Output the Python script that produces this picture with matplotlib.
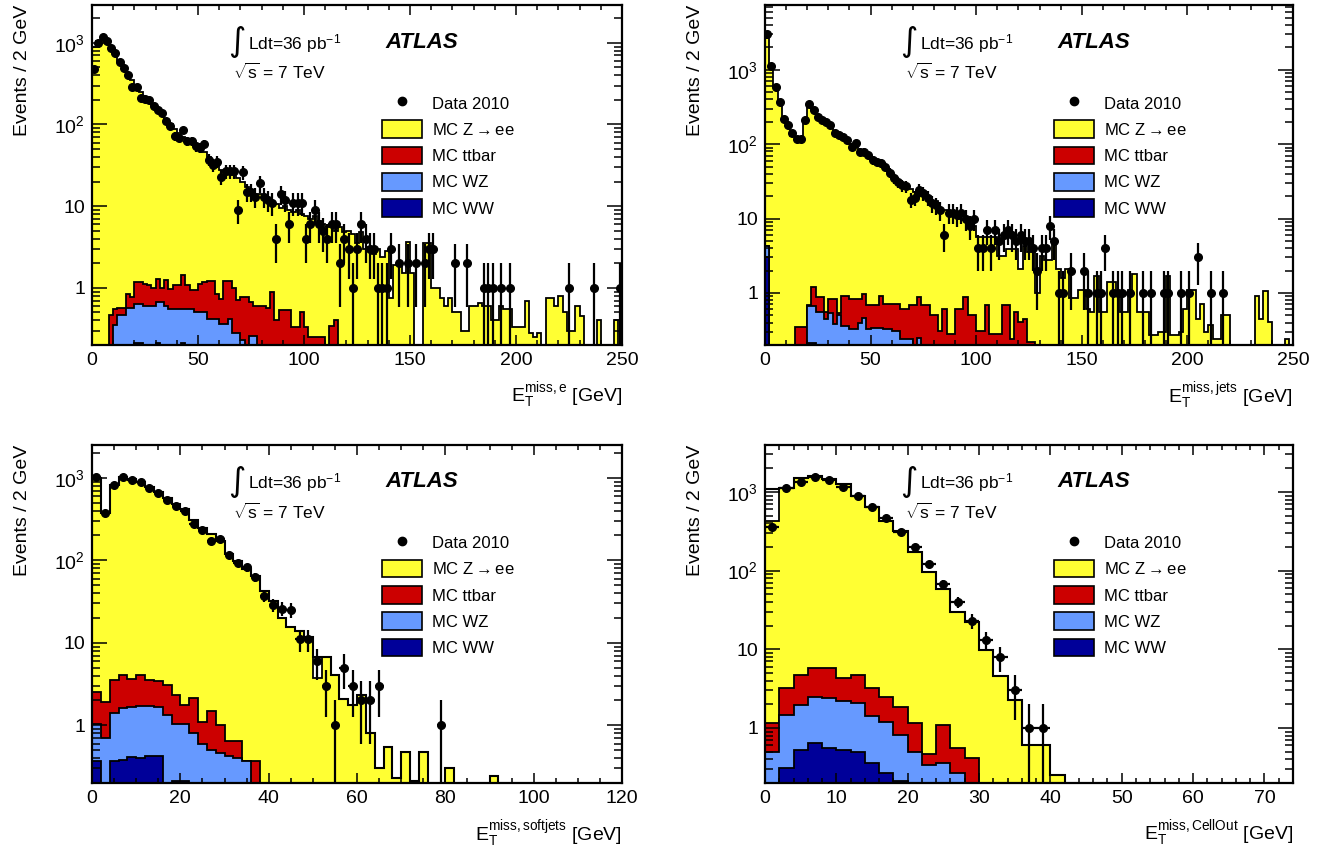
import numpy as np
import matplotlib
matplotlib.use('Agg')
import matplotlib.pyplot as plt
from matplotlib.patches import Patch
from matplotlib.lines import Line2D
from matplotlib.ticker import FixedLocator, LogLocator, MultipleLocator, NullFormatter, FuncFormatter

plt.rcParams['font.family'] = ['Liberation Sans', 'DejaVu Sans']
plt.rcParams['mathtext.fontset'] = 'custom'
plt.rcParams['mathtext.rm'] = 'Liberation Sans'
plt.rcParams['mathtext.it'] = 'Liberation Sans:italic'
plt.rcParams['mathtext.bf'] = 'Liberation Sans:bold'

# ---------------- top left: E_T^miss,e, 2 GeV bins 0-250 ----------------
e_data = [480, 1000, 1170, 1040, 860, 750, 590, 490, 407, 288,
          288, 212, 205, 198, 170, 152, 138, 110, 95, 72,
          69, 85, 63, 63, 54, 52, 57, 37, 32, 35,
          23, 27, 27, 27, 9, 26, 15, 15, 13, 19,
          13, 12, 11, 4, 14, 12, 6, 11, 11, 11,
          4, 6, 9, 6, 5, 4, 6, 6, 2, 4,
          3, 1, 3, 6, 4, 3, 3, 1, 1, 1,
          3, 0, 2, 0, 2, 0, 2, 0, 2, 3,
          3, 0, 0, 0, 0, 2, 0, 0, 2, 0,
          0, 0, 1, 1, 1, 0, 1, 0, 1, 0,
          0, 0, 0, 0, 0, 0, 0, 0, 0, 0,
          0, 0, 1, 0, 0, 0, 0, 0, 1, 0,
          0, 0, 0, 0, 1]
e_zee = [900, 1050, 1150, 1000, 850, 730, 600, 500, 420, 350,
         295, 250, 215, 190, 168, 150, 132, 115, 100, 88,
         78, 70, 64, 58, 53, 50, 46, 40, 35, 31,
         28, 26, 25, 24, 22, 20, 17, 15, 14, 14,
         13, 12, 11.5, 10.5, 9.5, 10, 9, 8.5, 9, 8,
         7.5, 7, 7.5, 6.5, 6, 5.5, 6, 5, 5.5, 4.8,
         5, 4.6, 3.5, 4.8, 3, 3.2, 2.6, 3, 2.4, 2.8,
         0.75, 1.9, 1.9, 1.5, 3.6, 1.5, 0.15, 0.15, 3.5, 3.5,
         1, 1, 0.75, 0.6, 0.75, 0.5, 0.5, 0.3, 0.3, 0.6,
         0.6, 0.65, 0.6, 0.6, 0.4, 0.4, 0.6, 0.55, 0.55, 0.33,
         0.33, 0.33, 0.7, 0.28, 0.25, 0.28, 0, 0.75, 0.75, 0.6,
         0.8, 0.5, 0.3, 0.3, 0.6, 0.45, 0, 0, 0, 0.4,
         0, 0, 0, 0.4, 0]
e_tt = [0, 0, 0, 0, 0.46, 0.55, 0.57, 0.57, 0.85, 0.78,
        1.18, 1.18, 1.1, 1.07, 1.0, 1.3, 1.0, 1.25, 0.97, 1.07,
        1.07, 1.45, 1.07, 0.93, 0.93, 1.1, 1.18, 1.2, 1.2, 0.85,
        0.74, 1.2, 1.2, 1.0, 0.72, 0.77, 0.77, 0.67, 0.6, 0.6,
        0.6, 0.57, 0.9, 0.41, 0.53, 0.53, 0.53, 0.33, 0.33, 0.5,
        0.33, 0.25, 0.25, 0.25, 0.25, 0.18, 0.34, 0.4, 0, 0] + [0] * 65
e_wz = [0, 0, 0, 0, 0, 0.35, 0.46, 0.46, 0.57, 0.57,
        0.64, 0.64, 0.6, 0.6, 0.6, 0.68, 0.68, 0.6, 0.55, 0.55,
        0.55, 0.55, 0.55, 0.55, 0.5, 0.5, 0.5, 0.42, 0.42, 0.42,
        0.36, 0.36, 0.42, 0.28, 0.28, 0.23, 0.18, 0.26, 0.26, 0] + [0] * 85
e_ww = [0, 0, 0, 0, 0, 0, 0, 0, 0, 0,
        0.21, 0.21, 0, 0, 0, 0.21, 0, 0, 0, 0,
        0, 0.21, 0, 0, 0, 0, 0, 0, 0, 0] + [0] * 95

# ---------------- top right: E_T^miss,jets ----------------
j_data = [3000, 1130, 593, 366, 220, 179, 139, 119, 119, 213,
          341, 284, 231, 213, 198, 179, 139, 132, 125, 113,
          92, 102, 79, 79, 71, 61, 58, 55, 50, 41,
          35, 31, 28, 27, 18, 19, 24, 22, 19, 16,
          15, 13, 6, 12, 12, 11, 12, 10, 8, 10,
          4, 4, 7, 4, 7, 5, 6, 7, 6, 5,
          6, 5, 5, 4, 2, 4, 4, 8, 5, 1,
          1, 0, 2, 0, 0, 2, 1, 0, 1, 1,
          4, 0, 1, 1, 1, 0, 1, 0, 0, 1,
          0, 1, 0, 0, 1, 1, 0, 0, 1, 0,
          1, 0, 3, 0, 0, 1, 0, 0, 1, 0] + [0] * 15
j_zee = [2700, 1150, 600, 370, 230, 170, 130, 110, 115, 220,
         320, 290, 245, 225, 200, 175, 150, 135, 125, 112,
         100, 92, 82, 76, 70, 62, 57, 52, 47, 42,
         37, 32, 29, 27, 25, 23, 21, 20, 19, 16,
         17, 14, 13, 12, 11.5, 11, 10, 9.5, 8.5, 8,
         5.6, 5.6, 5.6, 5.6, 5.6, 3.1, 3.1, 3.9, 3.9, 3.9,
         2.1, 4.3, 3.5, 3.5, 1.0, 3.1, 2.8, 2.8, 4.8, 2.1,
         1.6, 2.1, 0.85, 0.85, 1.1, 1.1, 0.6, 0.55, 1.7, 0.55,
         0.55, 1.4, 1.4, 1.0, 0.55, 0.55, 1.1, 1.8, 0.55, 0.55,
         0.55, 0.27, 0.27, 0.3, 0.3, 1.7, 0.27, 0.27, 0.3, 0.6,
         1.1, 1.1, 0.45, 0.7, 0.3, 0.37, 0.24, 0.24, 0.5, 0.5,
         0, 0, 0, 0, 0, 0, 0.9, 0.45, 1.05, 0.41,
         0, 0, 0, 0.24, 0]
j_tt = [4.3, 0, 0, 0, 0, 0, 0, 0.35, 0.35, 0.35,
        0.68, 1.19, 0.88, 0.88, 0.55, 0.84, 0.84, 0.53, 0.9, 0.9,
        0.84, 0.84, 0.84, 0.97, 0.68, 0.68, 0.68, 0.9, 0.7, 0.7,
        0.7, 0.7, 0.6, 0.6, 0.68, 0.68, 0.88, 0.68, 0.68, 0.51,
        0.51, 0.31, 0.6, 0.28, 0.28, 0.6, 0.6, 0.88, 0.51, 0.51,
        0.31, 0.31, 0.68, 0.28, 0.28, 0.28, 0.68, 0.68, 0.24, 0.55,
        0.41, 0.45, 0.22, 0.22] + [0] * 61
j_wz = [4.3, 0, 0, 0, 0, 0, 0, 0, 0, 0,
        0.66, 0.66, 0.55, 0.55, 0.44, 0.53, 0.38, 0.51, 0.36, 0.36,
        0.33, 0.33, 0.4, 0.46, 0.33, 0.34, 0.34, 0.34, 0.33, 0.33,
        0.31, 0.31, 0.24, 0.24, 0.24, 0, 0.25] + [0] * 88
j_ww = [3.0, 0, 0, 0, 0, 0, 0, 0, 0, 0,
        0.21, 0.21] + [0] * 113

# ---------------- bottom left: E_T^miss,softjets, 0-120 ----------------
s_data = [1018, 375, 824, 1037, 929, 887, 751, 653, 543, 460,
          400, 272, 236, 171, 179, 115, 92, 82, 62, 37,
          29, 26, 25, 11, 11, 6, 3, 1, 5, 3,
          2, 2, 3, 0, 0, 0, 0, 0, 0, 1] + [0] * 20
s_line = [1000, 375, 824, 1037, 960, 900, 780, 680, 575, 480,
          420, 312, 248, 206, 171, 118, 98, 78, 65, 43,
          32, 19.8, 15.5, 14, 11.7, 6.7, 6.7, 4.1, 2.1, 1.76,
          2.36, 0.8, 0.3, 0.55, 0.23, 0.47, 0.21, 0.47, 0, 0,
          0.3, 0, 0, 0, 0, 0.24] + [0] * 14
s_zee = [1000, 375, 824, 1037, 960, 900, 780, 680, 575, 480,
         420, 312, 248, 206, 171, 118, 98, 78, 65, 43,
         32, 19.8, 15.5, 14, 11.7, 3.75, 6.7, 4.1, 2.1, 1.76,
         2.36, 0.8, 0.3, 0.55, 0.23, 0.47, 0.21, 0.47, 0, 0,
         0.3, 0, 0, 0, 0, 0.24] + [0] * 14
s_tt = [2.55, 1.93, 3.5, 4.04, 3.6, 4.1, 3.5, 3.4, 3.06, 2.3,
        1.76, 2.16, 1.1, 1.5, 1.0, 0.65, 0.65, 0.37, 0.37] + [0] * 41
s_wz = [1.05, 0.7, 1.4, 1.6, 1.68, 1.7, 1.7, 1.68, 1.33, 1.05,
        1.05, 0.8, 0.6, 0.5, 0.46, 0.42, 0.4, 0.37] + [0] * 42
s_ww = [0.37, 0, 0.37, 0.38, 0.41, 0.4, 0.42, 0.43, 0.2, 0.21,
        0.21] + [0] * 49

# ---------------- bottom right: E_T^miss,CellOut, 0-74 ----------------
c_data = [360, 1120, 1350, 1535, 1400, 1167, 880, 635, 465, 310,
          197, 121, 68, 40, 23, 13, 8, 3, 1, 1] + [0] * 17
c_line = [1080, 1135, 1490, 1595, 1446, 1250, 890, 646, 430, 321,
          175, 95, 58.7, 29.7, 22.5, 9.7, 4.6, 2.26, 0.61, 0.61,
          0.25] + [0] * 16
c_zee = [430, 1135, 1490, 1595, 1446, 1250, 890, 646, 430, 321,
         175, 95, 58.7, 29.7, 22.5, 9.7, 4.6, 2.26, 0.61, 0.61,
         0.25] + [0] * 16
c_tt = [1.17, 3.18, 4.7, 5.86, 5.8, 4.38, 4.7, 3.2, 2.49, 1.86,
        1.17, 0.47, 1.09, 0.55, 0.41] + [0] * 22
c_wz = [0.5, 1.46, 1.95, 2.45, 2.4, 2.22, 2.09, 1.42, 1.2, 0.81,
        0.5, 0.34, 0.36, 0.27] + [0] * 23
c_ww = [0.19, 0.31, 0.53, 0.64, 0.55, 0.53, 0.49, 0.36, 0.27, 0.21] + [0] * 27

xlabels = [r'$\mathregular{E_T^{miss,e}}$ [GeV]',
           r'$\mathregular{E_T^{miss,jets}}$ [GeV]',
           r'$\mathregular{E_T^{miss,softjets}}$ [GeV]',
           r'$\mathregular{E_T^{miss,CellOut}}$ [GeV]']
legend_labels = ['Data 2010', r'MC Z$\rightarrow$ee', 'MC ttbar', 'MC WZ', 'MC WW']

col_zee = '#ffff33'
col_tt = '#cc0000'
col_wz = '#6699ff'
col_ww = '#000099'

panels = [
    dict(pos=[0.0691, 0.5951, 0.3979, 0.399], xmax=250, ymax=2900, xmaj=50, xmin=10,
         data=e_data, zee=e_zee, tt=e_tt, wz=e_wz, ww=e_ww, line=None, xl=xlabels[0]),
    dict(pos=[0.5743, 0.5951, 0.3964, 0.399], xmax=250, ymax=7400, xmaj=50, xmin=10,
         data=j_data, zee=j_zee, tt=j_tt, wz=j_wz, ww=j_ww, line=None, xl=xlabels[1]),
    dict(pos=[0.0691, 0.081, 0.3979, 0.3967], xmax=120, ymax=2500, xmaj=20, xmin=5,
         data=s_data, zee=s_zee, tt=s_tt, wz=s_wz, ww=s_ww, line=s_line, xl=xlabels[2]),
    dict(pos=[0.5743, 0.081, 0.3964, 0.3967], xmax=74, ymax=3950, xmaj=10, xmin=2,
         data=c_data, zee=c_zee, tt=c_tt, wz=c_wz, ww=c_ww, line=c_line, xl=xlabels[3]),
]


def ytick_fmt(v, pos):
    if abs(v - 1) < 1e-6:
        return '1'
    if abs(v - 10) < 1e-6:
        return '10'
    return r'$\mathregular{10^{%d}}$' % round(np.log10(v))


fig = plt.figure(figsize=(13.32, 8.52), dpi=100)
floor = 1e-3

for p in panels:
    ax = fig.add_axes(p['pos'])
    nb = len(p['zee'])
    edges = np.arange(nb + 1) * 2.0
    centers = edges[:-1] + 1.0

    for vals, col in [(p['zee'], col_zee), (p['tt'], col_tt), (p['wz'], col_wz), (p['ww'], col_ww)]:
        v = np.clip(np.array(vals, dtype=float), floor, None)
        ax.stairs(v, edges, fill=True, facecolor=col, edgecolor='black', lw=1.3, baseline=floor)
    if p['line'] is not None:
        v = np.clip(np.array(p['line'], dtype=float), floor, None)
        ax.stairs(v, edges, fill=False, color='black', lw=1.5, baseline=None)

    d = np.array(p['data'], dtype=float)
    m = d > 0
    ax.errorbar(centers[m], d[m], yerr=np.sqrt(d[m]), xerr=1.0, fmt='o', color='black',
                ms=5.5, elinewidth=1.6, capsize=0)

    ax.set_yscale('log')
    ax.set_xlim(0, p['xmax'])
    ax.set_ylim(0.2, p['ymax'])

    ax.xaxis.set_major_locator(MultipleLocator(p['xmaj']))
    ax.xaxis.set_minor_locator(MultipleLocator(p['xmin']))
    ax.yaxis.set_major_locator(FixedLocator([1, 10, 100, 1000]))
    ax.yaxis.set_minor_locator(LogLocator(base=10, subs=np.arange(2, 10)))
    ax.yaxis.set_major_formatter(FuncFormatter(ytick_fmt))
    ax.yaxis.set_minor_formatter(NullFormatter())
    ax.tick_params(axis='both', which='both', direction='in', top=True, right=True,
                   labelsize=14, width=1.1)
    ax.tick_params(axis='x', which='major', length=7, pad=5)
    ax.tick_params(axis='x', which='minor', length=3.5)
    ax.tick_params(axis='y', which='major', length=11, pad=5)
    ax.tick_params(axis='y', which='minor', length=5.5)
    for s in ax.spines.values():
        s.set_linewidth(1.6)

    ax.set_ylabel('Events / 2 GeV', fontsize=14, loc='top')
    ax.yaxis.set_label_coords(-0.115, 1.0)
    ax.set_xlabel(p['xl'], fontsize=14, loc='right')
    ax.xaxis.set_label_coords(1.0, -0.105)

    ax.text(0.256, 0.893, '∫', transform=ax.transAxes, fontsize=24, family='DejaVu Sans',
            va='center', ha='left')
    ax.text(0.294, 0.888, r'Ldt=36 pb$^{-1}$', transform=ax.transAxes, fontsize=12.5,
            va='center', ha='left')
    ax.text(0.266, 0.803, r'$\sqrt{\mathregular{s}}$ = 7 TeV', transform=ax.transAxes, fontsize=12.5,
            va='center', ha='left')
    ax.text(0.553, 0.891, 'ATLAS', transform=ax.transAxes, fontsize=16, fontweight='bold',
            fontstyle='italic', va='center', ha='left')

    handles = [Line2D([], [], marker='o', color='black', ls='', ms=6),
               Patch(facecolor=col_zee, edgecolor='black', lw=1.2),
               Patch(facecolor=col_tt, edgecolor='black', lw=1.2),
               Patch(facecolor=col_wz, edgecolor='black', lw=1.2),
               Patch(facecolor=col_ww, edgecolor='black', lw=1.2)]
    ax.legend(handles, legend_labels, loc='upper left', bbox_to_anchor=(0.547, 0.738),
              frameon=False, fontsize=12, handlelength=2.4, handleheight=1.25,
              labelspacing=0.52, handletextpad=0.6, borderpad=0, borderaxespad=0)

fig.savefig('out.png', dpi=100)
